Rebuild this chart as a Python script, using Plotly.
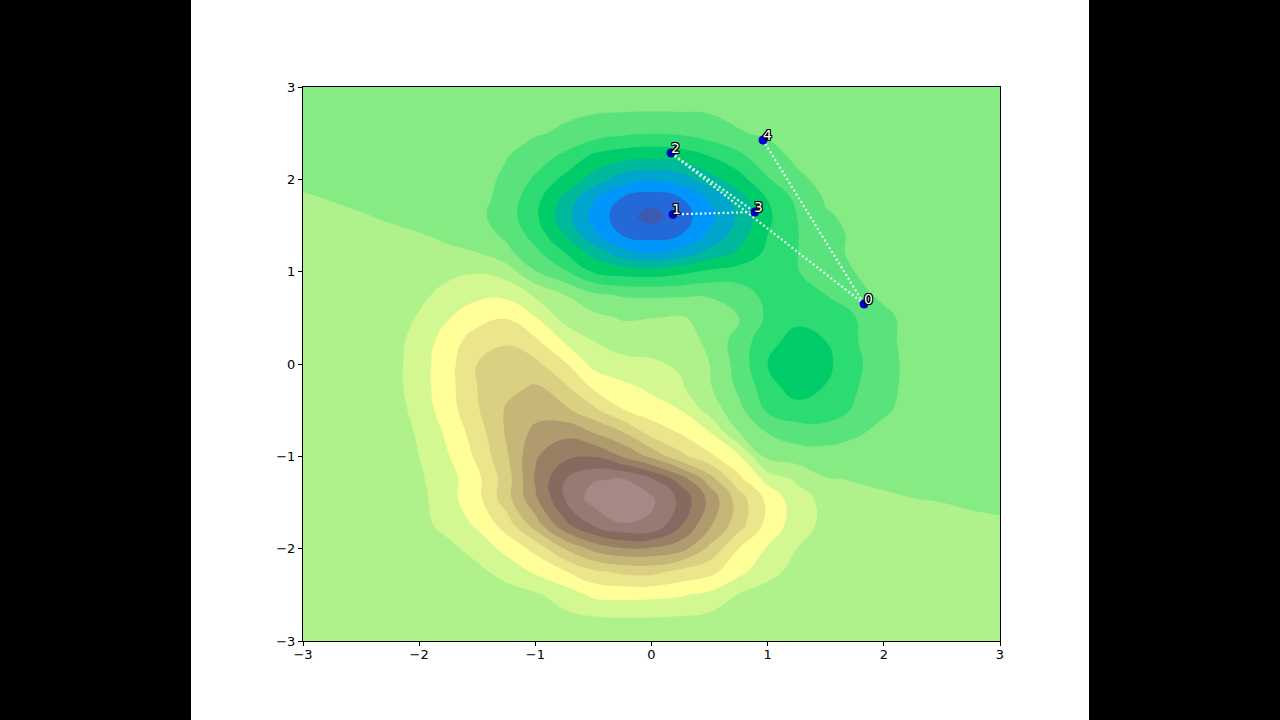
import plotly.graph_objects as go

# grid the surface was read on
x_grid = [-3, -2.75, -2.5, -2.25, -2, -1.75, -1.5, -1.25, -1, -0.75, -0.5, -0.25, 0,
          0.25, 0.5, 0.75, 1, 1.25, 1.5, 1.75, 2, 2.25, 2.5, 2.75, 3]
y_grid = [3, 2.75, 2.5, 2.25, 2, 1.8, 1.6, 1.4, 1.2, 1, 0.75, 0.5, 0.25, 0,
          -0.25, -0.5, -0.75, -1, -1.25, -1.45, -1.75, -2, -2.25, -2.5, -2.75, -3]

# surface height in band units, one row per y_grid entry
z_rows = [
    [8.6,8.6,8.6,8.55,8.55,8.5,8.5,8.45,8.4,8.4,8.35,8.35,8.35,8.35,8.35,8.35,8.35,8.35,8.35,8.35,8.35,8.35,8.35,8.35,8.35],
    [8.65,8.65,8.6,8.6,8.55,8.5,8.45,8.4,8.3,8.2,8.12,8.08,8.06,8.07,8.1,8.18,8.25,8.3,8.33,8.35,8.35,8.35,8.35,8.35,8.35],
    [8.75,8.7,8.7,8.65,8.6,8.55,8.45,8.3,8.1,7.85,7.5,7.2,7.05,7.15,7.5,7.95,8.1,8.22,8.3,8.33,8.35,8.35,8.35,8.35,8.35],
    [8.85,8.8,8.8,8.7,8.65,8.55,8.4,8.05,7.5,6.8,5.8,5.4,5.25,5.45,6.0,6.75,7.7,8.15,8.28,8.33,8.35,8.35,8.35,8.35,8.35],
    [8.9,8.87,8.83,8.8,8.7,8.6,8.4,7.8,6.85,5.75,4.6,3.5,3.1,3.45,4.6,5.6,6.9,7.85,8.2,8.3,8.35,8.35,8.35,8.35,8.35],
    [9.05,8.97,8.9,8.85,8.75,8.6,8.4,7.6,6.35,4.8,3.15,1.95,1.5,2.0,3.15,4.55,6.05,7.25,8.1,8.25,8.35,8.35,8.35,8.35,8.35],
    [9.2,9.12,9.03,8.95,8.8,8.6,8.25,7.5,6.2,4.45,2.7,1.45,0.6,1.5,2.7,4.2,5.8,7.0,7.9,8.2,8.3,8.35,8.35,8.35,8.35],
    [9.22,9.18,9.12,9.08,9.03,8.9,8.5,7.8,6.6,5.0,3.2,1.95,1.6,2.0,3.15,4.5,6.0,6.95,7.7,8.15,8.3,8.35,8.35,8.35,8.35],
    [9.3,9.28,9.25,9.2,9.15,9.1,9.03,8.3,7.25,6.05,4.7,3.45,3.0,3.4,4.35,5.15,6.25,6.97,7.6,8.2,8.35,8.4,8.4,8.4,8.4],
    [9.4,9.4,9.4,9.4,9.6,9.75,9.92,9.55,8.05,7.15,5.9,5.55,5.45,5.75,6.2,6.45,6.65,6.95,7.45,8.0,8.3,8.4,8.45,8.45,8.45],
    [9.45,9.45,9.45,9.5,9.75,10.35,10.8,10.75,9.85,9.0,8.2,7.9,7.85,7.85,7.9,7.5,6.7,6.45,7.0,7.7,8.2,8.45,8.5,8.5,8.5],
    [9.45,9.45,9.45,9.45,10.1,10.95,11.55,11.95,11.05,9.65,9.3,8.9,8.98,9.1,8.65,8.1,6.8,6.25,6.45,6.95,7.75,8.35,8.5,8.55,8.55],
    [9.45,9.45,9.45,9.5,10.45,11.45,12.6,12.85,12.2,10.9,10.0,9.7,9.55,9.45,8.8,7.55,6.35,5.6,6.0,6.9,7.75,8.3,8.5,8.6,8.6],
    [9.45,9.45,9.45,9.55,10.55,11.65,13.0,13.6,13.25,12.15,10.7,10.2,10.15,9.85,9.0,7.6,6.0,5.3,5.75,6.75,7.65,8.3,8.55,8.65,8.65],
    [9.45,9.45,9.45,9.55,10.55,11.65,13.0,13.75,14.1,13.2,11.85,11.3,10.75,10.15,9.1,7.8,6.45,5.45,6.05,6.9,7.7,8.3,8.55,8.65,8.7],
    [9.4,9.4,9.4,9.4,10.4,11.55,12.9,14.1,14.6,14.25,13.25,12.05,11.5,11.0,9.6,8.3,6.85,6.45,6.55,7.1,7.85,8.35,8.6,8.7,8.75],
    [9.35,9.35,9.35,9.3,10.15,11.2,12.5,14.1,15.3,15.75,15.05,14.15,12.65,11.95,11.1,9.05,8.0,7.5,7.4,7.85,8.3,8.5,8.65,8.75,8.8],
    [9.3,9.3,9.3,9.25,10.0,10.95,12.2,13.85,15.9,16.75,16.95,15.95,14.75,13.3,12.2,11.15,8.7,8.55,8.5,8.55,8.7,8.75,8.85,8.85,8.9],
    [9.3,9.3,9.25,9.1,9.85,10.6,11.75,13.5,16.1,17.95,18.9,19.1,18.1,16.6,14.5,12.3,10.65,9.85,9.05,8.97,8.93,8.92,8.92,8.92,8.92],
    [9.25,9.25,9.25,9.2,9.7,10.65,11.7,13.6,15.85,18.0,19.45,19.9,19.15,17.75,15.7,13.5,11.7,10.4,9.7,9.15,9.05,9.0,8.98,8.96,8.95],
    [9.25,9.25,9.25,9.2,9.7,10.3,11.15,12.4,14.45,16.65,18.05,18.9,18.85,17.05,15.15,13.4,11.65,10.5,9.7,9.4,9.25,9.15,9.1,9.05,9.03],
    [9.25,9.25,9.25,9.2,9.5,9.75,10.35,11.3,12.3,14.0,15.3,15.9,15.85,15.4,13.75,12.0,10.9,10.0,9.5,9.25,9.15,9.1,9.07,9.05,9.05],
    [9.25,9.25,9.25,9.2,9.35,9.55,9.75,10.35,11.15,11.9,12.8,13.2,13.3,12.7,12.3,11.3,10.3,9.7,9.45,9.3,9.2,9.15,9.1,9.08,9.07],
    [9.25,9.25,9.25,9.25,9.3,9.35,9.45,9.6,9.85,10.45,11.2,11.3,11.25,11.1,10.75,9.95,9.6,9.45,9.35,9.25,9.2,9.15,9.12,9.1,9.1],
    [9.25,9.25,9.25,9.25,9.3,9.3,9.35,9.45,9.6,9.75,9.9,9.97,9.97,9.9,9.75,9.55,9.4,9.3,9.25,9.22,9.18,9.15,9.12,9.1,9.1],
    [9.2,9.2,9.2,9.2,9.25,9.25,9.3,9.35,9.4,9.45,9.5,9.52,9.52,9.5,9.45,9.4,9.3,9.25,9.22,9.2,9.18,9.15,9.12,9.1,9.1],
]

band_colors = ["#3c5ab0", "#2369d7", "#0096fa", "#00a5cd", "#00b99b", "#00cd69", "#2ddb73", "#5ae27d",
               "#85eb82", "#aff28c", "#d4f891", "#ffff99", "#ebe68c", "#dad082", "#c6b678", "#af9b6e",
               "#988064", "#87695f", "#967a73", "#a58984"]

point_x = [1.83, 0.185, 0.168, 0.89, 0.96]
point_y = [0.65, 1.62, 2.285, 1.646, 2.426]
point_labels = ["0", "1", "2", "3", "4"]

# pairs of point numbers joined by a dotted line
links = [(2, 3), (2, 0), (1, 3), (4, 0)]

tick_vals = [-3, -2, -1, 0, 1, 2, 3]
tick_text = ["\u22123", "\u22122", "\u22121", "0", "1", "2", "3"]

n = len(band_colors)
scale = []
for i, c in enumerate(band_colors):
    scale.append([i / n, c])
    scale.append([(i + 1) / n, c])

fig = go.Figure()
fig.add_trace(go.Contour(
    x=x_grid, y=y_grid, z=z_rows,
    autocontour=False,
    contours=dict(start=1, end=n - 1, size=1, coloring="fill"),
    line=dict(width=0, smoothing=1.3),
    colorscale=scale, zmin=0, zmax=n,
    showscale=False, hoverinfo="skip",
))

for a, b in links:
    fig.add_trace(go.Scatter(
        x=[point_x[a], point_x[b]], y=[point_y[a], point_y[b]],
        mode="lines",
        line=dict(color="#e8fff8", width=2.2, dash="2px,2.5px"),
        hoverinfo="skip",
    ))

fig.add_trace(go.Scatter(
    x=point_x, y=point_y, mode="markers",
    marker=dict(color="#0000c8", size=9),
    hoverinfo="skip",
))

# labels sit just above and to the right of their point
for px, py, label in zip(point_x, point_y, point_labels):
    fig.add_annotation(
        x=px, y=py, text=label, showarrow=False, xshift=4, yshift=5,
        font=dict(family="DejaVu Sans", size=14, color="white",
                  shadow="-1px 0 #000, 1px 0 #000, 0 -1px #000, 0 1px #000, -1px -1px #000, 1px 1px #000, -1px 1px #000, 1px -1px #000"),
    )

axis = dict(range=[-3, 3], tickmode="array", tickvals=tick_vals, ticktext=tick_text,
            ticks="outside", ticklen=4, tickwidth=1, tickcolor="#000",
            showgrid=False, zeroline=False, showline=True, mirror=True,
            linecolor="#000", linewidth=1)

fig.update_layout(
    width=1280, height=720,
    margin=dict(l=303, r=280, t=87, b=79),
    paper_bgcolor="white", plot_bgcolor="white",
    showlegend=False,
    font=dict(family="DejaVu Sans", size=13, color="#000"),
    xaxis=dict(axis, ticklabelstandoff=-3), yaxis=axis,
    shapes=[
        dict(type="rect", xref="paper", yref="paper", x0=-303 / 697, x1=-112 / 697,
             y0=-79 / 554, y1=1 + 87 / 554, fillcolor="black", line_width=0),
        dict(type="rect", xref="paper", yref="paper", x0=786 / 697, x1=977 / 697,
             y0=-79 / 554, y1=1 + 87 / 554, fillcolor="black", line_width=0),
    ],
)

fig.write_html("out.html", config=dict(displayModeBar=False),
               post_script="document.body.style.margin='0';")
